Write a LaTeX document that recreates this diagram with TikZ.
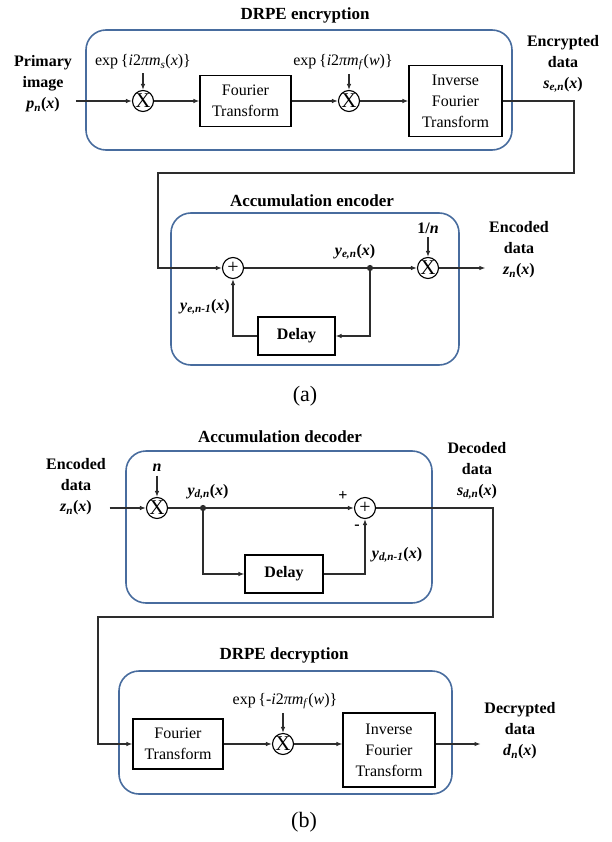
\documentclass[tikz,border=0pt]{standalone}
\usepackage{fontspec}
\setmainfont{Liberation Serif}
\usepackage{tikz}
\usetikzlibrary{arrows.meta}
\usetikzlibrary{positioning}

\definecolor{grpblue}{RGB}{72,108,158}
\definecolor{wire}{RGB}{45,45,45}
\newcommand{\sigx}[2]{\textbf{\textit{#1}\textsubscript{\textit{#2}}(\textit{x})}}

\begin{document}
\begin{tikzpicture}[x=1pt,y=-1pt,line width=1.1pt,
        font=\fontsize{16}{21}\selectfont,
        grp/.style={draw=grpblue,line width=1.6pt,rounded corners=20pt},
        blk/.style={draw,rectangle,inner sep=0pt,align=center},
        mix/.style={draw,circle,minimum size=21pt,inner sep=0pt,font=\fontsize{21}{21}\selectfont},
        add/.style={draw,circle,minimum size=21pt,inner sep=0pt,font=\fontsize{20}{20}\selectfont},
        ttl/.style={font=\fontsize{17}{21}\selectfont\bfseries},
        io/.style={align=center,font=\fontsize{16}{21}\selectfont\bfseries},
        ar/.style={wire,-{Latex[length=6pt,width=4.5pt]}}]

        \useasboundingbox (0,0) rectangle (612,842);

        % DRPE encryption
        \node[ttl] (encT) at (305,15) {DRPE encryption};
        \draw[grp] (86,30) rectangle (512,150);
        \node[io] (inP) at (43,84) {Primary\\image\\\sigx{p}{n}};
        \node[mix] (mulA) at (143,101) {X};
        \node (keyA) at (143,62) {exp\,\{\textit{i}2\textit{πm}\textsubscript{\textit{s}}(\textit{x})\}};
        \node[blk,minimum width=91pt,minimum height=51pt] (ftA) at (245.5,101) {Fourier\\Transform};
        \node[mix] (mulB) at (349,101) {X};
        \node (keyB) at (343,62) {exp\,\{\textit{i}2\textit{πm}\textsubscript{\textit{f}}(\textit{w})\}};
        \node[blk,minimum width=93pt,minimum height=71pt] (iftA) at (455.5,101) {Inverse\\Fourier\\Transform};
        \node[io] (encO) at (563,64) {Encrypted\\data\\\sigx{s}{e,n}};

        \draw[ar] (inP.east |- mulA) -- (mulA);
        \draw[ar] (keyA) -- (mulA);
        \draw[ar] (mulA) -- (ftA);
        \draw[ar] (ftA) -- (mulB);
        \draw[ar] (keyB.south -| mulB) -- (mulB);
        \draw[ar] (mulB) -- (iftA);

        % accumulation encoder
        \node[ttl] (accT) at (312,201) {Accumulation encoder};
        \draw[grp] (171,213) rectangle (459,365);
        \node[add] (sumA) at (233,268) {+};
        \filldraw[wire] (370,268) coordinate (brA) circle (2.5pt);
        \node[mix] (mulC) at (428,268) {X};
        \node[font=\fontsize{16}{21}\selectfont\bfseries] (invN) at (428,228) {1/\textit{n}};
        \node[blk,font=\fontsize{16}{21}\selectfont\bfseries,minimum width=77pt,minimum height=38pt] (dlyA) at (296.5,336) {Delay};
        \node[io] (encZ) at (519,250) {Encoded\\data\\\sigx{z}{n}};
        \node (yA) at (355,252) {\sigx{y}{e,n}};
        \node (yA1) at (205,307) {\sigx{y}{e,n-1}};

        \coordinate (tA) at (574,173);
        \coordinate (tB) at (158,173);
        \draw[ar] (iftA) -| (tA) -- (tB) |- (sumA);

        \draw[wire] (sumA) -- (brA);
        \draw[ar] (brA) -- (mulC);
        \draw[ar] (invN) -- (mulC);
        \draw[ar] (mulC) -- (mulC -| encZ.west);
        \draw[ar] (brA) |- (dlyA);
        \draw[ar] (dlyA) -| (sumA);

        \node[font=\fontsize{22}{22}\selectfont] (capA) at (305,396) {(a)};

        % accumulation decoder
        \node[ttl] (decT) at (280,437) {Accumulation decoder};
        \draw[grp] (126,451) rectangle (432,603);
        \node[io] (decZ) at (76,487) {Encoded\\data\\\sigx{z}{n}};
        \node[mix] (mulD) at (157,508) {X};
        \node[font=\fontsize{16}{21}\selectfont\bfseries\itshape] (nD) at (157,468) {n};
        \filldraw[wire] (203,508) coordinate (brB) circle (2.5pt);
        \node (yB) at (208,492) {\sigx{y}{d,n}};
        \node[add] (sumB) at (365,508) {+};
        \node[font=\fontsize{16}{21}\selectfont\bfseries] (plB) at (343,496) {+};
        \node[font=\fontsize{16}{21}\selectfont\bfseries] (miB) at (357,527) {-};
        \node[blk,font=\fontsize{16}{21}\selectfont\bfseries,minimum width=78pt,minimum height=38pt] (dlyB) at (284,574) {Delay};
        \node (yB1) at (397,555) {\sigx{y}{d,n-1}};
        \node[io] (decS) at (477,471) {Decoded\\data\\\sigx{s}{d,n}};

        \draw[ar] (decZ.east |- mulD) -- (mulD);
        \draw[ar] (nD) -- (mulD);
        \draw[wire] (mulD) -- (brB);
        \draw[ar] (brB) -- (sumB);
        \draw[ar] (brB) |- (dlyB);
        \draw[ar] (dlyB) -| (sumB);

        % DRPE decryption
        \node[ttl] (dcrT) at (284,655) {DRPE decryption};
        \draw[grp] (119,671) rectangle (452,794);
        \node[blk,minimum width=90pt,minimum height=50pt] (ftB) at (178,744) {Fourier\\Transform};
        \node[mix] (mulE) at (283,744) {X};
        \node (keyE) at (285,701) {exp\,\{-\textit{i}2\textit{πm}\textsubscript{\textit{f}}(\textit{w})\}};
        \node[blk,minimum width=92pt,minimum height=74pt] (iftB) at (389,750) {Inverse\\Fourier\\Transform};
        \node[io] (decD) at (520,731) {Decrypted\\data\\\sigx{d}{n}};

        \coordinate (tC) at (493,617);
        \coordinate (tD) at (98,617);
        \draw[ar] (sumB) -| (tC) -- (tD) |- (ftB);

        \draw[ar] (ftB) -- (mulE);
        \draw[ar] (keyE.south -| mulE) -- (mulE);
        \draw[ar] (mulE) -- (mulE -| iftB.west);
        \draw[ar] (mulE -| iftB.east) -- (mulE -| decD.west);

        \node[font=\fontsize{22}{22}\selectfont] (capB) at (304,822) {(b)};
    \end{tikzpicture}
\end{document}
